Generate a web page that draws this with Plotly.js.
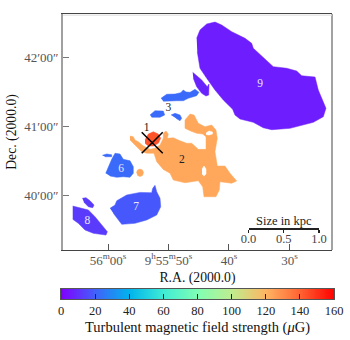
<!DOCTYPE html>
<html><head><meta charset="utf-8">
<script src="https://cdn.plot.ly/plotly-3.0.1.min.js"></script>
<style>html,body{margin:0;padding:0;background:#fff}#c{width:350px;height:340px}</style>
</head><body><div id="c"></div>
<script>
// RA = seconds after 9h55m, Dec = arcsec after 40'00"
const region9Ra=[45.34,44.79,43.68,42.31,41.21,39.55,37.35,36.25,35.98,34.33,32.68,30.46,28.81,27.98,25.78,25.24,23.97,24.41,26.06,29.92,32.94,34.33,35.98,38.18,39.01,39.39,40.94,42.31,43.14,43.68,44.79,45.24];
const region9Dec=[136.3,143.5,148.7,150.4,147.8,142.0,136.3,131.9,127.6,119.4,111.6,110.2,107.8,103.7,102.6,91.3,75.4,68.1,63.2,58.0,56.8,58.5,63.2,66.1,69.6,74.5,82.6,91.3,97.1,101.5,110.2,124.6];
const region4Ra=[46.00,45.62,44.51,43.59,43.30,43.35,43.80,44.51,45.34,45.90];
const region4Dec=[106.7,105.0,100.0,94.2,96.5,87.0,86.1,88.4,94.2,101.5];
const region3aRa=[51.24,50.30,48.92,47.98,47.55,47.11,46.44,45.62,44.96,45.34,46.73,47.55,48.64,49.75,50.86];
const region3aDec=[84.1,87.6,87.8,89.0,91.3,89.6,89.3,91.9,89.3,86.4,84.1,82.0,82.0,81.5,81.5];
const region3bRa=[53.06,52.23,50.86,50.63,51.40,52.78];
const region3bDec=[69.6,73.3,73.0,69.6,67.6,67.6];
const region3cRa=[49.59,48.92,48.10,47.82,48.10,48.76];
const region3cDec=[69.6,71.0,69.6,66.7,64.6,66.7];
const region6aRa=[60.94,60.21,59.39,59.39,60.49];
const region6aDec=[34.5,35.7,35.0,33.3,33.3];
const region6Ra=[60.38,59.83,59.39,58.84,58.02,57.47,56.36,55.82,55.82,56.36,57.47,58.56,59.67];
const region6Dec=[18.9,26.1,31.0,36.3,35.7,31.0,29.8,24.6,18.9,15.4,15.9,15.4,16.5];
const region5Ra=[55.29,55.12,54.71,54.30,54.13,54.30,54.71,55.12];
const region5Dec=[19.4,21.7,22.6,21.7,19.4,17.0,16.1,17.0];
const region7Ra=[59.67,58.84,58.56,56.91,54.71,52.78,52.61,52.23,51.95,51.40,51.29,51.95,53.60,55.54,57.73,58.30,59.12];
const region7Dec=[-11.6,-8.7,-5.0,0,2.3,2.0,5.8,8.4,2.9,-2.9,-10.2,-17.4,-21.7,-24.6,-25.5,-21.7,-15.9];
const region8Ra=[65.83,64.63,63.25,62.15,61.04,60.11,60.33,62.43,63.80,64.91,65.83];
const region8Dec=[-9.6,-11.0,-13.0,-18.9,-26.1,-31.9,-34.8,-33.3,-30.4,-24.6,-21.1];
const region8bRa=[64.25,63.64,62.97,62.31,62.53,63.25,63.97];
const region8bDec=[-2.9,-2.3,-5.0,-8.7,-11.0,-10.2,-6.3];
const region2Ra=[56.36,55.82,55.54,54.99,54.16,53.06,52.23,51.40,50.86,50.86,50.41,50.03,50.20,49.20,48.10,46.99,46.16,45.07,43.80,43.80,44.35,45.34,46.44,47.27,47.27,46.44,45.78,45.07,43.97,42.86,42.15,41.93,42.31,42.15,41.93,40.66,39.83,38.73,39.55,41.49,41.60,42.15,44.13,44.35,45.07,47.27,49.20,49.75,50.86,51.95,52.40,53.60,54.43,55.54,56.36];
const region2Dec=[51.3,50.7,47.8,46.3,42.6,39.7,40.6,43.5,49.3,53.7,55.7,53.0,49.3,49.8,47.2,45.0,45.0,39.7,39.7,50.7,53.0,53.7,55.9,58.0,65.2,70.4,69.6,62.4,59.4,60.9,56.5,49.3,37.7,30.4,25.2,25.2,18.9,12.2,10.2,11.6,4.3,-1.5,-1.5,7.2,12.4,10.7,13.0,18.9,22.3,29.0,36.3,36.3,37.7,43.5,47.8];
const hole2aRa=[43.80,43.30,42.73,42.73,43.30,43.80];
const hole2aDec=[53.9,55.7,54.8,53.0,52.2,52.6];
const hole2bRa=[44.46,44.13,43.80,43.80,44.13,44.46];
const hole2bDec=[22.6,25.2,22.6,18.3,16.5,18.3];
const region1Ra=[53.88,53.34,52.51,51.68,51.29,51.68,52.51,53.34,53.88];
const region1Dec=[47.8,53.0,55.0,53.0,49.3,45.0,42.6,42.6,45.0];
const crossRa=[52.69], crossDec=[45.5];

const fieldValues={r1:143,r2:123,r3:22,r4:7,r5:123,r6:22,r7:18,r8:12,r9:6};
const labelText=['1','2','3','6','7','8','9'];
const labelRa=[53.60,47.77,50.03,57.85,55.37,63.42,34.87];
const labelDec=[58.0,30.4,75.9,22.3,-10.7,-22.6,96.5];
const labelColors=['#111','#222','#222','#e8e8ff','#e8e8ff','#e8e8ff','#e8e8ff'];

const raTicks=[60,50,40,30];
const raTickText=['56<sup>m</sup>00<sup>s</sup>','9<sup>h</sup>55<sup>m</sup>50<sup>s</sup>','40<sup>s</sup>','30<sup>s</sup>'];
const decTicks=[0,60,120];
const decTickText=['40′00″','41′00″','42′00″'];
const kpcTicks=[0,0.5,1];
const kpcText=['0.0','0.5','1.0'];
const cbTicks=[0,20,40,60,80,100,120,140,160];
const cbLevels=[];for(let v=0;v<=160;v+=1)cbLevels.push(v);

const stops=[[0,'#8000ff'],[0.125,'#4062fa'],[0.25,'#00b4ec'],[0.375,'#40ecd4'],[0.5,'#80ffb4'],[0.625,'#c0ec8e'],[0.75,'#ffb462'],[0.875,'#ff6232'],[1,'#ff0000']];
function hex(c){return [1,3,5].map(i=>parseInt(c.substr(i,2),16));}
function colorOf(v){const t=v/160;for(let i=1;i<stops.length;i++){if(t<=stops[i][0]){const a=stops[i-1],b=stops[i],f=(t-a[0])/(b[0]-a[0]),p=hex(a[1]),q=hex(b[1]);return 'rgb('+p.map((x,k)=>Math.round(x+(q[k]-x)*f)).join(',')+')';}}return '#ff0000';}
function blob(x,y,col){return {type:'scatter',mode:'lines',x:x,y:y,fill:'toself',fillcolor:col,line:{width:0.5,color:col},hoverinfo:'skip'};}

const F='"Liberation Serif",serif';
const traces=[
 blob(region9Ra,region9Dec,colorOf(fieldValues.r9)),
 blob(region4Ra,region4Dec,colorOf(fieldValues.r4)),
 blob(region3aRa,region3aDec,colorOf(fieldValues.r3)),
 blob(region3bRa,region3bDec,colorOf(fieldValues.r3)),
 blob(region3cRa,region3cDec,colorOf(fieldValues.r3)),
 blob(region6aRa,region6aDec,colorOf(fieldValues.r6)),
 blob(region6Ra,region6Dec,colorOf(fieldValues.r6)),
 blob(region5Ra,region5Dec,colorOf(fieldValues.r5)),
 blob(region7Ra,region7Dec,colorOf(fieldValues.r7)),
 blob(region8Ra,region8Dec,colorOf(fieldValues.r8)),
 blob(region8bRa,region8bDec,colorOf(fieldValues.r8)),
 blob(region2Ra,region2Dec,colorOf(fieldValues.r2)),
 blob(hole2aRa,hole2aDec,'#ffffff'),
 blob(hole2bRa,hole2bDec,'#ffffff'),
 blob(region1Ra,region1Dec,colorOf(fieldValues.r1)),
 {type:'scatter',mode:'markers',x:crossRa,y:crossDec,hoverinfo:'skip',
  marker:{symbol:'x-thin',size:21,line:{width:1.5,color:'#000'},color:'#000'}},
 {type:'scatter',mode:'text',x:labelRa,y:labelDec,text:labelText,textposition:'middle center',
  textfont:{family:F,size:11.5,color:labelColors},hoverinfo:'skip'},
 {type:'scatter',mode:'lines',x:[0,1],y:[0,0],xaxis:'x3',yaxis:'y3',line:{width:0},hoverinfo:'skip'},
 {type:'heatmap',x:cbLevels,y:[0],z:[cbLevels],zmin:0,zmax:160,colorscale:stops,showscale:false,xaxis:'x4',yaxis:'y4',hoverinfo:'skip',zsmooth:'best'}
];
const layout={
 width:350,height:340,margin:{l:0,r:0,t:0,b:0,autoexpand:false},paper_bgcolor:'#fff',plot_bgcolor:'rgba(0,0,0,0)',showlegend:false,
 xaxis:{domain:[63/350,332/350],range:[67.44,22.97],tickmode:'array',tickvals:raTicks,ticktext:raTickText,automargin:true,
  ticks:'inside',ticklen:6,tickcolor:'#555',tickwidth:1,tickangle:0,ticklabelstandoff:-2,tickfont:{family:F,size:13,color:'#555'},
  showgrid:false,zeroline:false,showline:true,linecolor:'#444',linewidth:1,mirror:true,
  title:{text:'R.A. (2000.0)',standoff:5,font:{family:F,size:13.7,color:'#111'}}},
 yaxis:{domain:[90/340,326/340],range:[-47.8,157.4],tickmode:'array',tickvals:decTicks,ticktext:decTickText,automargin:true,
  ticks:'inside',ticklen:6,tickcolor:'#777',tickwidth:1,tickfont:{family:F,size:13,color:'#555'},
  showgrid:false,zeroline:false,showline:true,linecolor:'#a0a0a0',linewidth:2,
  title:{text:'Dec. (2000.0)',standoff:4,font:{family:F,size:13.7,color:'#111'}}},
 xaxis3:{domain:[248.5/350,319/350],range:[0,1],anchor:'y3',side:'bottom',
  tickmode:'array',tickvals:kpcTicks,ticktext:kpcText,ticks:'outside',ticklen:3,tickcolor:'#222',tickwidth:1.2,ticklabelstandoff:-5,
  tickfont:{family:F,size:12.5,color:'#444'},showgrid:false,zeroline:false,showline:true,linecolor:'#222',linewidth:1.5},
 yaxis3:{domain:[111.7/340,114/340],anchor:'x3',range:[0,1],visible:false},
 xaxis4:{domain:[61/350,334/350],range:[0,160],anchor:'y4',side:'bottom',automargin:true,
  tickmode:'array',tickvals:cbTicks,ticks:'inside',ticklen:5,tickcolor:'#222',tickwidth:1,tickangle:0,
  tickfont:{family:F,size:12.5,color:'#222'},showgrid:false,zeroline:false,showline:true,linecolor:'#555',linewidth:1.2,mirror:true,
  title:{text:'Turbulent magnetic field strength (<i>μ</i>G)',standoff:4,font:{family:F,size:14.5,color:'#111'}}},
 yaxis4:{domain:[41/340,51/340],anchor:'x4',range:[-0.5,0.5],showticklabels:false,ticks:'',showgrid:false,zeroline:false,showline:true,linecolor:'#555',linewidth:1.2,mirror:true},
 shapes:[
  {type:'line',xref:'x domain',yref:'y domain',x0:1,x1:1,y0:0,y1:1,line:{color:'#444',width:1}},
  {type:'line',xref:'x domain',yref:'y domain',x0:0,x1:1,y0:0.995,y1:0.995,line:{color:'#ddd',width:1}}
 ],
 annotations:[{text:'Size in kpc',xref:'paper',yref:'paper',x:284/350,y:(340-220.5)/340,xanchor:'center',yanchor:'middle',showarrow:false,font:{family:F,size:12.5,color:'#222'}}]
};
Plotly.newPlot('c',traces,layout,{staticPlot:true,displayModeBar:false});
</script></body></html>
